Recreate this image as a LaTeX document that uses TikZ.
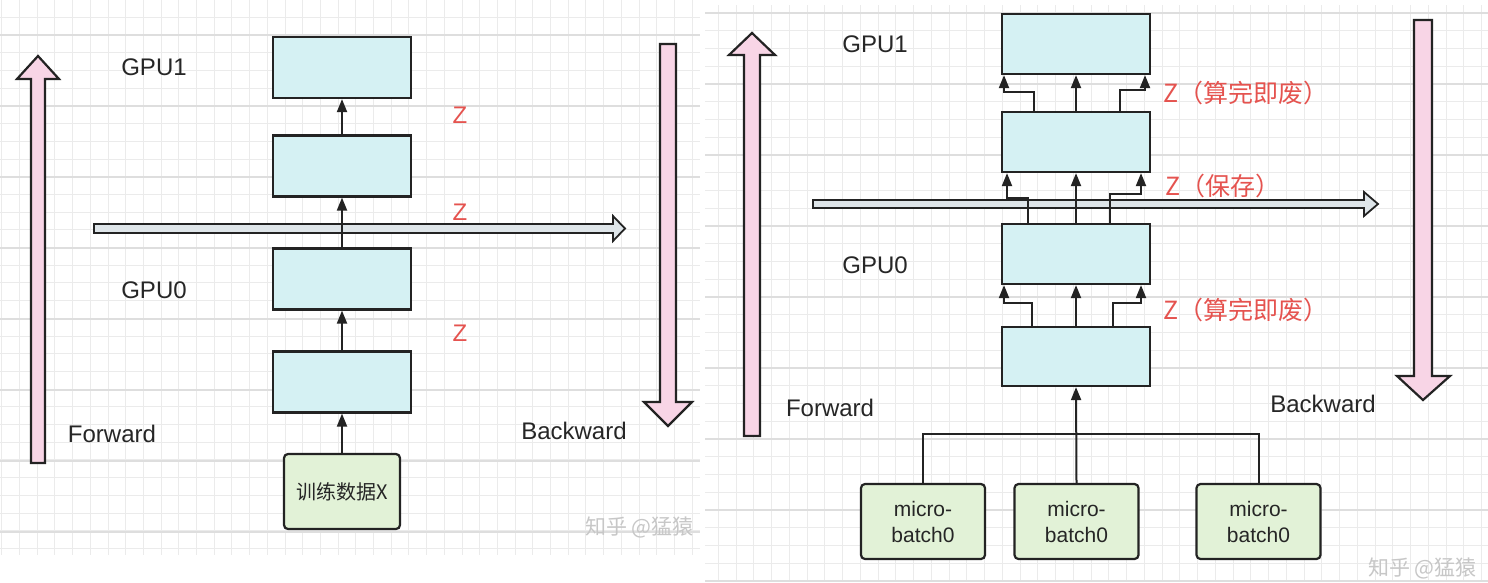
\documentclass[tikz,border=0pt]{standalone}
\usepackage{fontspec}
\setmainfont{Liberation Sans}
\newfontfamily\cjk{Noto Sans CJK SC}
\usetikzlibrary{arrows.meta,positioning,calc}
\definecolor{inkgray}{HTML}{232323}
\definecolor{textgray}{HTML}{262626}
\definecolor{boxcyan}{HTML}{D5F1F3}
\definecolor{boxgreen}{HTML}{E2F2D7}
\definecolor{fatpink}{HTML}{F8D5E6}
\definecolor{flowgray}{HTML}{DEE5E9}
\definecolor{zred}{HTML}{E5534F}
\definecolor{gridminor}{gray}{0.92}
\definecolor{gridmajor}{gray}{0.87}
\definecolor{markgray}{gray}{0.78}
\newcommand{\zdrop}{Z（算完即废）}
\newcommand{\zkeep}{Z（保存）}
\newcommand{\wmark}{知乎 @猛猿}

\begin{document}
\begin{tikzpicture}[
  x=1pt, y=-1pt,
  layer/.style={draw=inkgray, line width=2.2pt, fill=boxcyan, minimum width=#1, minimum height=60pt, inner sep=0pt},
  databox/.style={draw=inkgray, line width=2.2pt, fill=boxgreen, rounded corners=4pt, minimum width=#1, minimum height=75pt, align=center, text=textgray},
  arr/.style={-{Triangle[length=13pt,width=10pt]}, line width=2pt, color=inkgray},
  bus/.style={line width=2pt, color=inkgray},
  fatarr/.style={draw=inkgray, line width=2.2pt, fill=#1, line join=miter},
  lab/.style={text=textgray, font=\fontsize{24}{28}\selectfont},
  zlab/.style={text=zred, font=\cjk\fontsize{25}{28}\selectfont, anchor=west, inner sep=0pt},
  wm/.style={text=markgray, font=\cjk\fontsize{21}{24}\selectfont, anchor=west, inner sep=0pt},
]
  \useasboundingbox (0,0) rectangle (1488,582);
  \fill[white] (0,0) rectangle (1488,582);

  \begin{scope}
    \clip (0,0) rectangle (700,555);
    \foreach \gx in {1.7,19.4,...,700} \draw[gridminor, line width=0.8pt] (\gx,0) -- (\gx,555);
    \foreach \gy in {-0.4,17.3,...,555} \draw[gridminor, line width=0.8pt] (0,\gy) -- (700,\gy);
    \foreach \gy in {35,106,...,555} \draw[gridmajor, line width=1.4pt] (0,\gy) -- (700,\gy);
  \end{scope}
  \begin{scope}
    \clip (705,5) rectangle (1488,582);
    \foreach \gx in {700.5,718.25,...,1488} \draw[gridminor, line width=0.8pt] (\gx,0) -- (\gx,582);
    \foreach \gy in {-4.75,13,...,582} \draw[gridminor, line width=0.8pt] (700,\gy) -- (1488,\gy);
    \foreach \gy in {13,84,...,582} \draw[gridmajor, line width=1.4pt] (700,\gy) -- (1488,\gy);
  \end{scope}

  \draw[fatarr=fatpink] (31,463) -- (31,79) -- (17,79) -- (38,56) -- (59,79) -- (45,79) -- (45,463) -- cycle;
  \draw[fatarr=fatpink] (660,44) -- (660,402) -- (644,402) -- (668,426) -- (692,402) -- (676,402) -- (676,44) -- cycle;
  \draw[fatarr=flowgray, line width=1.8pt] (94,224) -- (613,224) -- (613,216) -- (625,228.5) -- (613,241) -- (613,233) -- (94,233) -- cycle;

  \draw[fatarr=fatpink] (744,436) -- (744,55) -- (729,55) -- (752,33) -- (775,55) -- (760,55) -- (760,436) -- cycle;
  \draw[fatarr=fatpink] (1414,20) -- (1414,376) -- (1397,376) -- (1423,400) -- (1450,376) -- (1432,376) -- (1432,20) -- cycle;
  \draw[fatarr=flowgray, line width=1.8pt] (813,200) -- (1364,200) -- (1364,192) -- (1378,204) -- (1364,216) -- (1364,208) -- (813,208) -- cycle;

  \node[layer=138pt, minimum height=61pt] (l1) at (342,67.5) {};
  \node[layer=138pt, minimum height=61pt] (l2) at (342,166) {};
  \node[layer=138pt, minimum height=61pt] (l3) at (342,279) {};
  \node[layer=138pt, minimum height=61pt] (l4) at (342,382) {};
  \node[databox=116pt, font=\cjk\fontsize{20}{24}\selectfont] (xdata) at (342,491.5) {训练数据X};
  \node[lab] (gpu1l) at (154,67) {GPU1};
  \node[lab] (gpu0l) at (154,290) {GPU0};
  \node[lab] (fwdl) at (112,434) {Forward};
  \node[lab] (bwdl) at (574,431) {Backward};
  \node[text=zred, font=\fontsize{24}{28}\selectfont] (zl1) at (460,115) {Z};
  \node[text=zred, font=\fontsize{24}{28}\selectfont] (zl2) at (460,212) {Z};
  \node[text=zred, font=\fontsize{24}{28}\selectfont] (zl3) at (460,333) {Z};
  \node[wm] (wml) at (585,527) {\wmark};

  \draw[arr] (xdata) -- (l4);
  \draw[arr] (l4) -- (l3);
  \draw[arr] (l3) -- (l2);
  \draw[arr] (l2) -- (l1);

  \node[layer=148pt] (ra) at (1076,44) {};
  \node[layer=148pt] (rb) at (1076,142) {};
  \node[layer=148pt] (rc) at (1076,254) {};
  \node[layer=148pt, minimum height=59pt] (rd) at (1076,356.5) {};
  \node[databox=124pt, font=\fontsize{21}{26}\selectfont] (mb1) at (923,521.5) {micro-\\batch0};
  \node[databox=124pt, font=\fontsize{21}{26}\selectfont] (mb2) at (1076.5,521.5) {micro-\\batch0};
  \node[databox=124pt, font=\fontsize{21}{26}\selectfont] (mb3) at (1258.5,521.5) {micro-\\batch0};
  \node[lab] (rgpu1l) at (875,44) {GPU1};
  \node[lab] (rgpu0l) at (875,265) {GPU0};
  \node[lab] (rfwdl) at (830,408) {Forward};
  \node[lab] (rbwdl) at (1323,404) {Backward};
  \node[zlab] (rz1) at (1163,93) {\zdrop};
  \node[zlab] (rz2) at (1165,186) {\zkeep};
  \node[zlab] (rz3) at (1163,310) {\zdrop};
  \begin{scope}
    \clip (705,5) rectangle (1488,582);
    \node[wm] (wmr) at (1368,568) {\wmark};
  \end{scope}

  \draw[bus] (mb1.north) |- (mb3.north |- 0,434) -- (mb3.north);
  \draw[arr] (mb2.north) -- (rd.south);
  \draw[arr] ([xshift=-44pt]rd.north) -- ++(0,-23) -| ([xshift=-72pt]rc.south);
  \draw[arr] (rd) -- (rc);
  \draw[arr] ([xshift=37pt]rd.north) -- ++(0,-23) -| ([xshift=65pt]rc.south);
  \draw[arr] ([xshift=-48pt]rc.north) -- ++(0,-25) -| ([xshift=-69pt]rb.south);
  \draw[arr] (rc) -- (rb);
  \draw[arr] ([xshift=34pt]rc.north) -- ++(0,-29) -| ([xshift=65pt]rb.south);
  \draw[arr] ([xshift=-42pt]rb.north) -- ++(0,-19) -| ([xshift=-72pt]ra.south);
  \draw[arr] (rb) -- (ra);
  \draw[arr] ([xshift=44pt]rb.north) -- ++(0,-21) -| ([xshift=69pt]ra.south);
\end{tikzpicture}
\end{document}
